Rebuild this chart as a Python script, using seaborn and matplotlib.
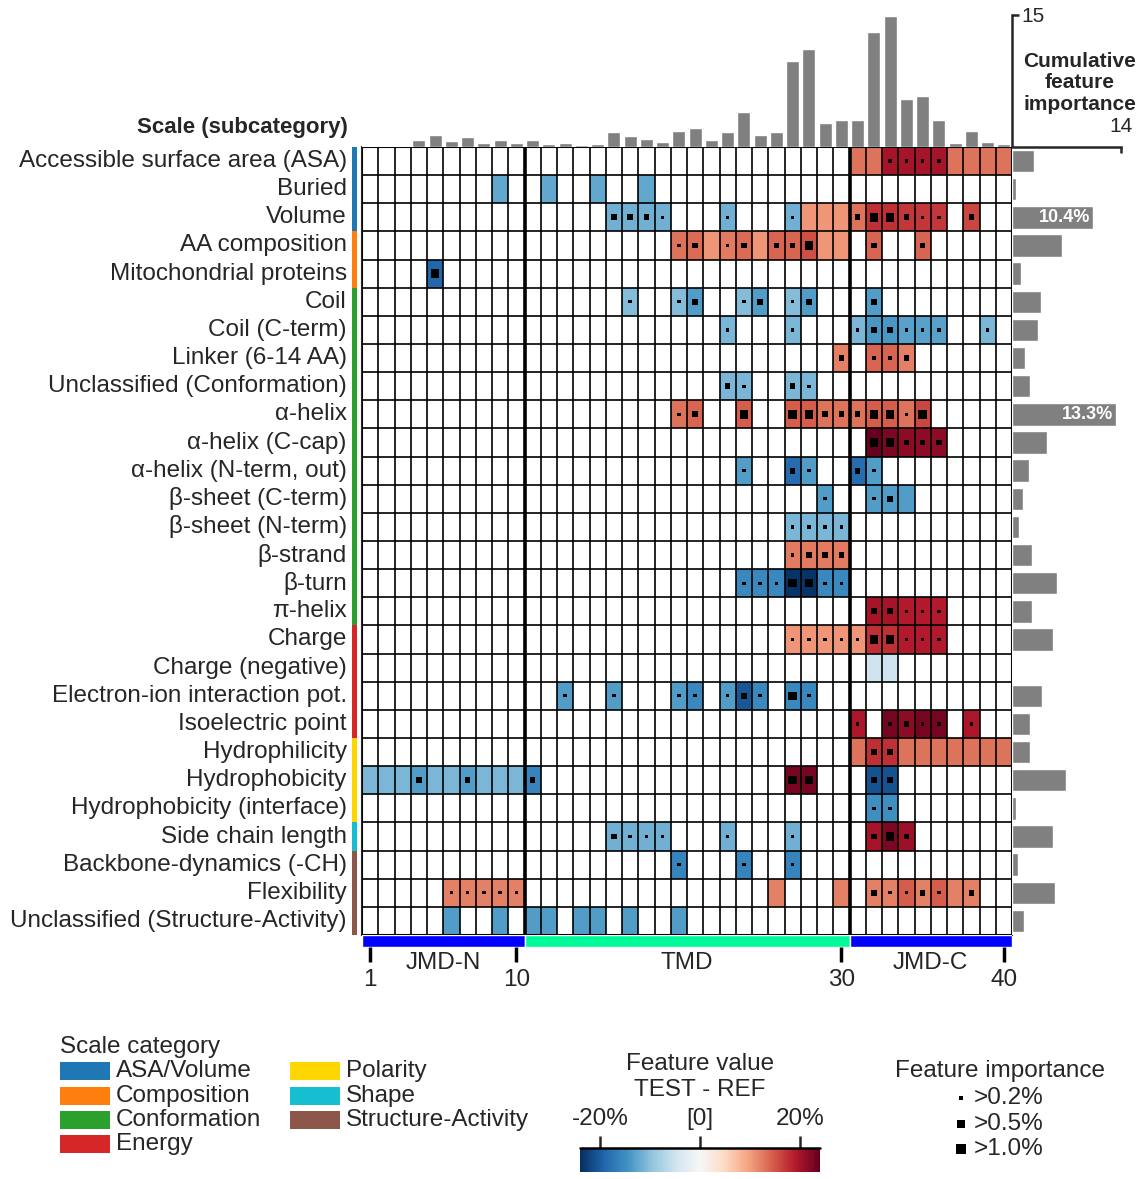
import numpy as np
import pandas as pd
import matplotlib.pyplot as plt
import seaborn as sns
from matplotlib.patches import Rectangle
from matplotlib.colors import Normalize
from matplotlib.cm import ScalarMappable

# --- data -------------------------------------------------------------
scales = ["Accessible surface area (ASA)", "Buried", "Volume", "AA composition",
          "Mitochondrial proteins", "Coil", "Coil (C-term)", "Linker (6-14 AA)",
          "Unclassified (Conformation)", "α-helix", "α-helix (C-cap)",
          "α-helix (N-term, out)", "β-sheet (C-term)", "β-sheet (N-term)",
          "β-strand", "β-turn", "π-helix", "Charge", "Charge (negative)",
          "Electron-ion interaction pot.", "Isoelectric point", "Hydrophilicity",
          "Hydrophobicity", "Hydrophobicity (interface)", "Side chain length",
          "Backbone-dynamics (-CH)", "Flexibility", "Unclassified (Structure-Activity)"]

categories = ["ASA/Volume", "Composition", "Conformation", "Energy",
              "Polarity", "Shape", "Structure-Activity"]
cat_colors = ["#1f77b4", "#ff7f0e", "#2ca02c", "#d62728", "#ffd700", "#17becf", "#8c564b"]
cat_rows = [3, 2, 12, 4, 3, 1, 3]

# feature positions (1-40), mean difference TEST-REF (%), importance level per row
feat_pos = [
    [31, 32, 33, 34, 35, 36, 37, 38, 39, 40],
    [9, 12, 15, 18],
    [16, 17, 18, 19, 23, 27, 28, 29, 30, 31, 32, 33, 34, 35, 36, 38],
    [20, 21, 22, 23, 24, 25, 26, 27, 28, 29, 30, 32, 35],
    [5],
    [17, 20, 21, 24, 25, 27, 28, 32],
    [23, 27, 31, 32, 33, 34, 35, 36, 39],
    [30, 32, 33, 34],
    [23, 24, 27, 28],
    [20, 21, 24, 27, 28, 29, 30, 31, 32, 33, 34, 35],
    [32, 33, 34, 35, 36],
    [24, 27, 28, 31, 32],
    [29, 32, 33, 34],
    [27, 28, 29, 30],
    [27, 28, 29, 30],
    [24, 25, 26, 27, 28, 29, 30],
    [32, 33, 34, 35, 36],
    [27, 28, 29, 30, 31, 32, 33, 34, 35, 36],
    [32, 33],
    [13, 16, 20, 21, 23, 24, 25, 27, 28],
    [31, 33, 34, 35, 36, 38],
    [31, 32, 33, 34, 35, 36, 37, 38, 39, 40],
    [1, 2, 3, 4, 5, 6, 7, 8, 9, 10, 11, 27, 28, 32, 33],
    [32, 33],
    [16, 17, 18, 19, 23, 27, 32, 33, 34],
    [20, 24, 27],
    [6, 7, 8, 9, 10, 26, 30, 32, 33, 34, 35, 36, 37, 38],
    [6, 9, 11, 12, 14, 15, 17, 20],
]
feat_val = [
    [13, 13, 20, 20, 20, 20, 13, 13, 13, 13],
    [-12.5, -12.5, -12.5, -12.5],
    [-11.5, -11.5, -11.5, -11.5, -11.5, -11.5, 10.5, 10.5, 10.5, 13, 17.5, 17.5, 17, 17, 17, 16],
    [13, 13.5, 10.5, 12.5, 13.5, 10.5, 14, 14, 15.5, 10.5, 10.5, 14, 14],
    [-19],
    [-10.5, -10.5, -13.5, -10.5, -13.5, -10.5, -13.5, -13.5],
    [-11, -11, -11, -14, -14, -13, -13, -13, -11],
    [12, 14, 14, 12],
    [-11, -11, -11, -11],
    [13, 14, 14.5, 14.5, 14.5, 13, 13, 13, 14.5, 14.5, 13, 16],
    [24.5, 22.5, 21.5, 21.5, 21.5],
    [-13.5, -18.5, -13.5, -18.5, -13.5],
    [-13.5, -13.5, -13.5, -13.5],
    [-11, -11, -11, -11],
    [12.5, 12.5, 12.5, 12.5],
    [-15.5, -15.5, -15.5, -23.5, -23.5, -15.5, -15.5],
    [20, 20, 19, 19, 19],
    [10.5, 10.5, 10.5, 10.5, 10.5, 17.5, 17.5, 19, 19, 19],
    [-5, -5],
    [-13.5, -13.5, -13.5, -15.5, -13.5, -20.5, -15.5, -15.5, -15.5],
    [19.5, 23, 21.5, 23, 23, 19.5],
    [13, 17.5, 17.5, 13, 13, 13, 13, 13, 13, 13],
    [-11, -11, -11, -13.5, -11, -11, -13.5, -11, -11, -11, -16, 23, 23, -21, -21],
    [-15, -15],
    [-11.5, -11.5, -11.5, -11.5, -11.5, -11.5, 20, 22.5, 20.5],
    [-16, -16, -16],
    [12, 12, 12, 12, 12, 12, 12, 12, 12, 14.5, 12, 14.5, 12, 12],
    [-13.5, -13.5, -13.5, -13.5, -13.5, -13.5, -13.5, -13.5],
]
# 0: <0.2%, 1: >0.2%, 2: >0.5%, 3: >1.0%
feat_imp = [
    [0, 0, 1, 1, 1, 1, 0, 0, 0, 0],
    [0, 0, 0, 0],
    [2, 2, 2, 1, 1, 1, 0, 0, 0, 2, 3, 3, 2, 1, 1, 2],
    [1, 2, 0, 1, 2, 0, 2, 2, 3, 0, 0, 2, 2],
    [3],
    [1, 1, 2, 1, 2, 1, 2, 2],
    [1, 1, 1, 2, 2, 1, 1, 1, 1],
    [2, 1, 1, 2],
    [2, 1, 2, 1],
    [1, 2, 3, 3, 3, 2, 2, 2, 3, 3, 1, 3],
    [3, 3, 2, 2, 2],
    [1, 2, 1, 2, 1],
    [1, 1, 2, 0],
    [1, 1, 1, 1],
    [1, 2, 2, 2],
    [1, 1, 1, 3, 3, 1, 1],
    [2, 2, 1, 1, 1],
    [1, 1, 1, 1, 1, 3, 3, 1, 1, 1],
    [0, 0],
    [1, 1, 1, 1, 1, 2, 1, 3, 1],
    [1, 1, 2, 1, 1, 1],
    [0, 2, 2, 0, 0, 0, 0, 0, 0, 0],
    [0, 0, 0, 2, 0, 0, 2, 0, 0, 0, 2, 3, 3, 2, 2],
    [1, 1],
    [2, 1, 1, 1, 1, 1, 2, 3, 2],
    [1, 1, 1],
    [1, 1, 1, 1, 1, 0, 0, 2, 1, 1, 2, 1, 0, 2],
    [0, 0, 0, 0, 0, 0, 0, 0],
]

positions = list(range(1, 41))
pos_importance = [0, 0, 0, 0.76, 1.33, 0.65, 1.1, 0.42, 0.76, 0.42,
                  0.76, 0.3, 0.42, 0.19, 0.3, 1.67, 1.22, 0.87, 0.53, 1.79,
                  2.13, 0.76, 1.67, 3.95, 1.33, 1.67, 9.77, 11.1, 2.7, 3.04,
                  3.04, 13.1, 14.9, 5.44, 5.78, 3.04, 0.42, 1.79, 0.53, 0.3]
scale_importance = [2.8, 0.56, 10.4, 6.43, 1.12, 3.71, 3.32, 1.64, 2.29, 13.3,
                    4.49, 2.16, 1.38, 0.86, 2.55, 5.79, 2.55, 5.27, 0.0, 3.84,
                    2.29, 2.29, 6.95, 0.56, 5.27, 0.73, 5.53, 1.51]

segments = ["JMD-N", "TMD", "JMD-C"]
seg_start = [0, 10, 30]
seg_len = [10, 20, 10]
seg_colors = ["#0000ff", "#00fa9a", "#0000ff"]
tick_pos = [1, 10, 30, 40]

imp_labels = [">0.2%", ">0.5%", ">1.0%"]
dot_size = {1: 6, 2: 17, 3: 36}
legend_dot_size = {1: 9, 2: 30, 3: 48}

# --- build matrix -------------------------------------------------------
mat = pd.DataFrame(np.nan, index=scales, columns=positions)
dots = []
for r, name in enumerate(scales):
    for p, v, d in zip(feat_pos[r], feat_val[r], feat_imp[r]):
        mat.loc[name, p] = v
        if d > 0:
            dots.append((p - 0.5, r + 0.5, dot_size[d]))
dots = pd.DataFrame(dots, columns=["x", "y", "s"])

sns.set_style("white")
plt.rcParams["font.family"] = ["Liberation Sans", "DejaVu Sans"]

W, H = 1140, 1179


def px_rect(x0, y0, x1, y1):
    return [x0 / W, 1 - y1 / H, (x1 - x0) / W, (y1 - y0) / H]


fig = plt.figure(figsize=(W / 100, H / 100), dpi=100)

# legend canvas in pixel coordinates
ax_leg = fig.add_axes([0, 0, 1, 1])
ax_leg.set_xlim(0, W)
ax_leg.set_ylim(H, 0)
ax_leg.axis("off")

# heatmap
ax = fig.add_axes(px_rect(362, 147, 1012, 935))
vmin, vmax = -24, 24
sns.heatmap(mat, cmap="RdBu_r", vmin=vmin, vmax=vmax, cbar=False, ax=ax,
            xticklabels=False, yticklabels=scales)
for i in range(41):
    ax.axvline(i, color="black", lw=2.6 if i in (10, 30) else 1.2, zorder=3)
for j in range(29):
    ax.axhline(j, color="black", lw=1.2, zorder=3)
for sp in ax.spines.values():
    sp.set_visible(True)
    sp.set_linewidth(1.5)
ax.scatter(dots["x"], dots["y"], s=dots["s"], marker="s", color="black",
           linewidths=0, zorder=4)
ax.set_xlabel("")
ax.set_ylabel("")
ax.tick_params(axis="y", length=0, pad=11, labelsize=17.5, rotation=0)

# category strip
start = 0
for n, c in zip(cat_rows, cat_colors):
    ax.add_patch(Rectangle((-0.62, start), 0.32, n, color=c, clip_on=False, lw=0))
    start += n

fig.text(348 / W, 1 - 128 / H, "Scale (subcategory)", ha="right", va="center",
         fontsize=16, fontweight="bold")

# segment bar
ax_seg = fig.add_axes(px_rect(362, 935, 1012, 947))
ax_seg.barh(0, seg_len, left=seg_start, height=1, color=seg_colors)
ax_seg.set_xlim(0, 40)
ax_seg.set_ylim(-0.5, 0.5)
for sp in ax_seg.spines.values():
    sp.set_visible(False)
ax_seg.set_yticks([])
ax_seg.set_xticks([p - 0.5 for p in tick_pos])
ax_seg.set_xticklabels([str(p) for p in tick_pos])
ax_seg.tick_params(axis="x", length=11, width=2.5, pad=5, labelsize=17.5,
                   bottom=True, color="black")
for name, s0, n in zip(segments, seg_start, seg_len):
    ax_seg.text(s0 + n / 2, -1.8, name, ha="center", va="center", fontsize=17.5,
                clip_on=False)

# top bar chart: cumulative importance per position
ax_top = fig.add_axes(px_rect(362, 15, 1012, 147))
sns.barplot(x=positions, y=pos_importance, color="grey", saturation=1,
            width=0.8, ax=ax_top)
ax_top.set_xlim(-0.5, 39.5)
ax_top.set_ylim(0, 15)
for k in ("left", "top", "bottom"):
    ax_top.spines[k].set_visible(False)
ax_top.spines["right"].set_linewidth(1.8)
ax_top.set_xticks([])
ax_top.yaxis.tick_right()
ax_top.set_yticks([15])
ax_top.tick_params(axis="y", length=5, width=1.8, labelsize=15, pad=2)

# right bar chart: cumulative importance per scale
ax_r = fig.add_axes(px_rect(1012, 147, 1121, 935))
sns.barplot(y=scales, x=scale_importance, color="grey", saturation=1,
            width=0.8, orient="h", ax=ax_r)
ax_r.set_ylim(27.5, -0.5)
ax_r.set_xlim(0, 14)
for k in ("left", "right", "bottom"):
    ax_r.spines[k].set_visible(False)
ax_r.spines["top"].set_linewidth(1.8)
ax_r.set_yticks([])
ax_r.set_ylabel("")
ax_r.xaxis.tick_top()
ax_r.set_xticks([14])
ax_r.tick_params(axis="x", direction="in", length=4, width=1.8, labelsize=15, pad=8)
for i, v in enumerate(scale_importance):
    if v >= 10:
        ax_r.text(v - 0.35, i, f"{v}%", ha="right", va="center", color="white",
                  fontweight="bold", fontsize=13)

fig.text(1080 / W, 1 - 83 / H, "Cumulative\nfeature\nimportance", ha="center",
         va="center", fontsize=15, fontweight="bold", linespacing=1.15)

# scale category legend
ax_leg.text(60, 1047, "Scale category", ha="left", va="center", fontsize=17.5)
rows_y = [1071, 1096, 1120, 1144]
for k, (name, c) in enumerate(zip(categories, cat_colors)):
    col, row = divmod(k, 4)
    x0 = 60 if col == 0 else 290
    y = rows_y[row]
    ax_leg.add_patch(Rectangle((x0, y - 9), 50, 18, color=c, lw=0))
    ax_leg.text(x0 + 56, y, name, ha="left", va="center", fontsize=17.5)

# feature value colorbar
cax = fig.add_axes(px_rect(580, 1148, 820, 1172))
cb = fig.colorbar(ScalarMappable(norm=Normalize(vmin, vmax), cmap="RdBu_r"),
                  cax=cax, orientation="horizontal", ticks=[-20, 0, 20])
cb.outline.set_visible(False)
cax.xaxis.set_ticks_position("top")
cax.set_xticklabels(["-20%", "[0]", "20%"])
cax.tick_params(axis="x", length=9, width=1.8, labelsize=17.5, pad=4)
cax.plot([0, 1], [1, 1], transform=cax.transAxes, color="black", lw=1.8,
         clip_on=False)
ax_leg.text(700, 1064, "Feature value", ha="center", va="center", fontsize=17.5)
ax_leg.text(700, 1090, "TEST - REF", ha="center", va="center", fontsize=17.5)

# feature importance legend
ax_leg.text(1000, 1071, "Feature importance", ha="center", va="center", fontsize=17.5)
for k, (lab, y) in enumerate(zip(imp_labels, [1098, 1124, 1149])):
    ax_leg.scatter([961], [y], s=legend_dot_size[k + 1], marker="s", color="black",
                   linewidths=0)
    ax_leg.text(974, y, lab, ha="left", va="center", fontsize=17.5)

fig.savefig("out.png", dpi=100)
